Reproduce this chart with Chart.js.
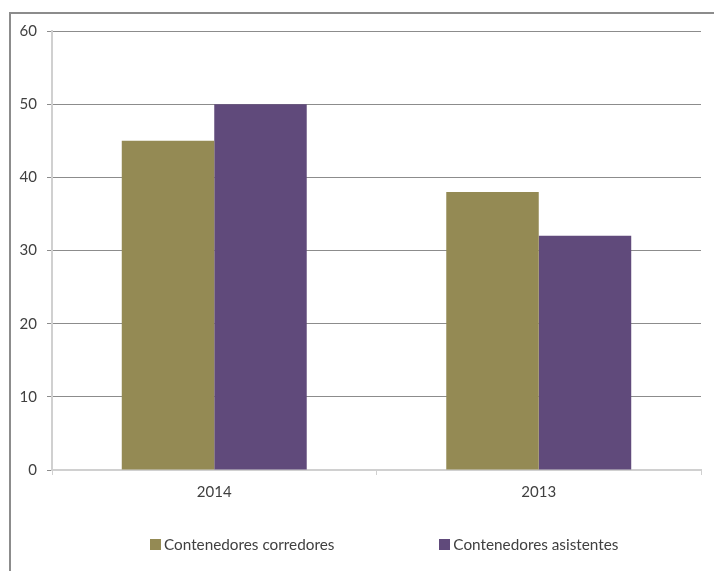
<!DOCTYPE html>
<html>
<head>
<meta charset="utf-8">
<script src="https://cdn.jsdelivr.net/npm/chart.js@4.4.1/dist/chart.umd.min.js"></script>
<style>
  html, body { margin: 0; padding: 0; background: #fff; overflow: hidden; }
  #wrap { position: relative; width: 714px; height: 571px; overflow: hidden; }
  #marco { position: absolute; left: 9px; top: 12px; width: 800px; height: 700px; border: 2px solid #8c8c8c; box-sizing: border-box; }
  canvas { position: absolute; left: 0; top: 0; }
  #leyenda { position: absolute; left: 150px; top: 535px; width: 560px; display: flex; white-space: nowrap; font: 15.3px Lato, sans-serif; color: #404040; }
  #leyenda .item { display: flex; align-items: center; margin-right: 105px; }
  #leyenda .cuadro { width: 11px; height: 11px; margin-right: 3px; }
</style>
</head>
<body>
<div id="wrap">
  <div id="marco"></div>
  <canvas id="grafico" width="714" height="571"></canvas>
  <div id="leyenda"></div>
</div>
<script>
// Datos del gráfico
const anios = ["2014", "2013"];
const corredores = [45, 38];
const asistentes = [50, 32];
const nombresSeries = ["Contenedores corredores", "Contenedores asistentes"];
const coloresSeries = ["#948A54", "#604A7B"];

const fuente = { family: "Lato, sans-serif", size: 15 };

const ctx = document.getElementById("grafico").getContext("2d");
const chart = new Chart(ctx, {
  type: "bar",
  data: {
    labels: anios,
    datasets: [
      { label: nombresSeries[0], data: corredores, backgroundColor: coloresSeries[0] },
      { label: nombresSeries[1], data: asistentes, backgroundColor: coloresSeries[1] }
    ]
  },
  options: {
    responsive: false,
    animation: false,
    layout: { padding: { top: 31, right: 13, bottom: 62, left: 0 } },
    datasets: { bar: { categoryPercentage: 0.57, barPercentage: 1.0 } },
    plugins: {
      legend: { display: false },
      tooltip: { enabled: false }
    },
    scales: {
      x: {
        grid: { drawOnChartArea: false, drawTicks: true, tickLength: 5, color: "#d0d0d0" },
        border: { color: "#d0d0d0", width: 2 },
        ticks: { color: "#404040", font: fuente, padding: 8 }
      },
      y: {
        min: 0,
        max: 60,
        ticks: { stepSize: 10, color: "#404040", font: fuente, padding: 10 },
        grid: { color: "#8c8c8c", tickLength: 5 },
        border: { color: "#d0d0d0", width: 2 },
        afterFit: (scale) => { scale.width = 52; }
      }
    }
  }
});

// Leyenda en HTML (para respetar la separación del original)
const leyenda = document.getElementById("leyenda");
chart.data.datasets.forEach(ds => {
  const item = document.createElement("div");
  item.className = "item";
  const cuadro = document.createElement("span");
  cuadro.className = "cuadro";
  cuadro.style.background = ds.backgroundColor;
  const texto = document.createElement("span");
  texto.textContent = ds.label;
  item.appendChild(cuadro);
  item.appendChild(texto);
  leyenda.appendChild(item);
});
</script>
</body>
</html>
